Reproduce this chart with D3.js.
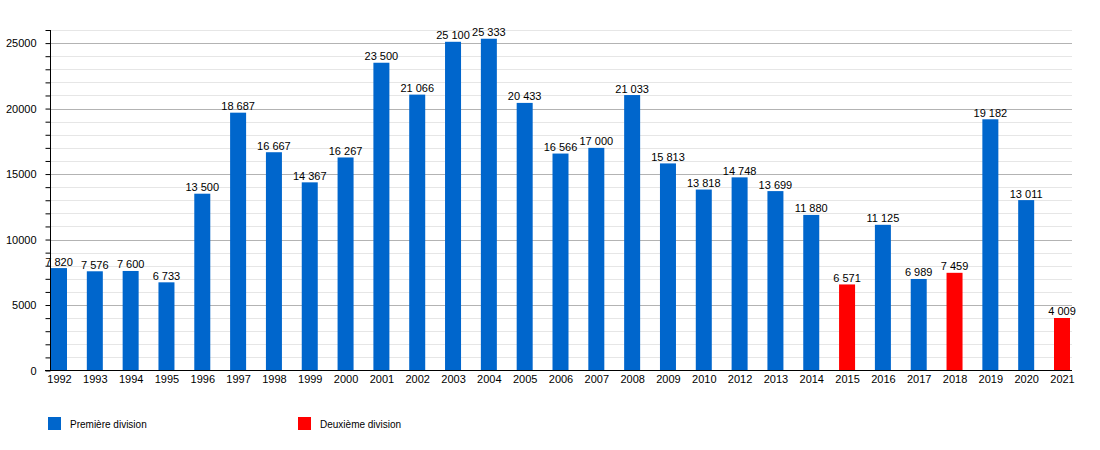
<!DOCTYPE html>
<html>
<head>
<meta charset="utf-8">
<script src="https://cdn.jsdelivr.net/npm/d3@7"></script>
<style>
  body { margin: 0; background: #fff; }
  text { font-family: "Liberation Sans", Arial, sans-serif; }
</style>
</head>
<body>
<div id="chart-area"></div>
<script>
// Data
var years = ["1992","1993","1994","1995","1996","1997","1998","1999","2000","2001",
    "2002","2003","2004","2005","2006","2007","2008","2009","2010","2012",
    "2013","2014","2015","2016","2017","2018","2019","2020","2021"];
var attendance = [7820, 7576, 7600, 6733, 13500, 19687, 16667, 14367, 16267, 23500,
    21066, 25100, 25333, 20433, 16566, 17000, 21033, 15813, 13818, 14748,
    13699, 11880, 6571, 11125, 6989, 7459, 19182, 13011, 4009];
// labels as printed on the chart (1997 label differs from its bar)
var valueLabels = ["7 820","7 576","7 600","6 733","13 500","18 687","16 667","14 367","16 267","23 500",
    "21 066","25 100","25 333","20 433","16 566","17 000","21 033","15 813","13 818","14 748",
    "13 699","11 880","6 571","11 125","6 989","7 459","19 182","13 011","4 009"];
var division = [1,1,1,1,1,1,1,1,1,1,1,1,1,1,1,1,1,1,1,1,1,1,2,1,1,2,1,1,2];
var divisionNames = ["Première division", "Deuxième division"];
var divisionColours = ["#0066cc", "#ff0000"];
var yTicks = [0, 5000, 10000, 15000, 20000, 25000];

var width = 1100, height = 450;
var plotLeft = 50, plotRight = 1072, plotTop = 30, plotBottom = 370.5;

var svg = d3.select("#chart-area").append("svg")
    .attr("width", width)
    .attr("height", height);

// Scales
var x = d3.scalePoint().domain(years).range([59, 1062]);
var y = d3.scaleLinear().domain([0, 26000]).range([plotBottom, plotTop]);
var barWidth = 16;

// Grid lines (minor every 1000, major every 5000)
var minor = d3.range(1000, 26001, 1000).filter(function(v){ return v % 5000 != 0; });
svg.append("g").selectAll("line").data(minor).enter().append("line")
    .attr("x1", plotLeft).attr("x2", plotRight)
    .attr("y1", function(d){ return Math.round(y(d)) + 0.5; })
    .attr("y2", function(d){ return Math.round(y(d)) + 0.5; })
    .attr("stroke", "#e6e6e6").attr("stroke-width", 1);

svg.append("g").selectAll("line").data(yTicks.slice(1)).enter().append("line")
    .attr("x1", plotLeft).attr("x2", plotRight)
    .attr("y1", function(d){ return Math.round(y(d)) + 0.5; })
    .attr("y2", function(d){ return Math.round(y(d)) + 0.5; })
    .attr("stroke", "#b3b3b3").attr("stroke-width", 1);

// Bars
var data = years.map(function(d, i){
    return { year: d, value: attendance[i], label: valueLabels[i], div: division[i] };
});

svg.append("g").selectAll("rect").data(data).enter().append("rect")
    .attr("x", function(d){ return x(d.year) - barWidth / 2; })
    .attr("y", function(d){ return y(d.value); })
    .attr("width", barWidth)
    .attr("height", function(d){ return y(0) - y(d.value); })
    .attr("fill", function(d){ return divisionColours[d.div - 1]; });

// Value labels
svg.append("g").selectAll("text").data(data).enter().append("text")
    .attr("x", function(d){ return x(d.year); })
    .attr("y", function(d){ return y(d.value) - 2.5; })
    .attr("text-anchor", "middle")
    .attr("font-size", "11px")
    .attr("fill", "#000")
    .text(function(d){ return d.label; });

// Y axis
var yAxisCall = d3.axisLeft(y)
    .tickValues(d3.range(0, 26001, 1000))
    .tickSize(5)
    .tickFormat(function(d){ return d % 5000 == 0 ? d : ""; });

var yAxis = svg.append("g")
    .attr("transform", "translate(" + (plotLeft + 0.5) + ",0)")
    .call(yAxisCall);
yAxis.select(".domain").remove();
yAxis.selectAll("line").attr("stroke", "#000");
yAxis.selectAll("text")
    .attr("x", -14)
    .attr("font-size", "11px")
    .attr("font-family", "Liberation Sans, Arial, sans-serif")
    .attr("fill", "#000");

svg.append("line")
    .attr("x1", plotLeft + 0.5).attr("x2", plotLeft + 0.5)
    .attr("y1", plotTop).attr("y2", plotBottom)
    .attr("stroke", "#000");

// X axis
var xAxisCall = d3.axisBottom(x).tickSize(0).tickPadding(5);
var xAxis = svg.append("g")
    .attr("transform", "translate(0," + plotBottom + ")")
    .call(xAxisCall);
xAxis.select(".domain").remove();
xAxis.selectAll("text")
    .attr("font-size", "11px")
    .attr("font-family", "Liberation Sans, Arial, sans-serif")
    .attr("fill", "#000");

svg.append("line")
    .attr("x1", plotLeft - 5).attr("x2", plotRight)
    .attr("y1", plotBottom).attr("y2", plotBottom)
    .attr("stroke", "#000");

// Legend
var legendX = [48, 298];
divisionNames.forEach(function(name, i){
    var row = svg.append("g")
        .attr("transform", "translate(" + legendX[i] + ",417)");
    row.append("rect")
        .attr("width", 13)
        .attr("height", 13)
        .attr("fill", divisionColours[i]);
    row.append("text")
        .attr("x", 22)
        .attr("y", 11)
        .attr("font-size", "10px")
        .attr("fill", "#000")
        .text(name);
});
</script>
</body>
</html>
